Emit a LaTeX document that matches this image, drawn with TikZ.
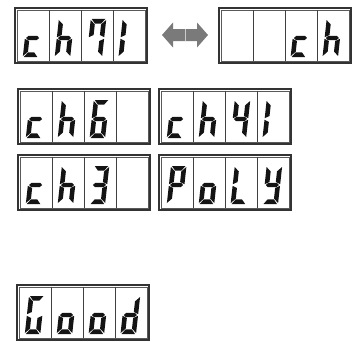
\documentclass[tikz,border=0pt]{standalone}
\begin{document}
\begin{tikzpicture}[x=1pt,y=1pt]
\useasboundingbox (0,0) rectangle (361,341);
\tikzset{
  outerframe/.style={draw=black!80,line width=1.1pt},
  innerframe/.style={draw=black!65,line width=0.6pt},
  divider/.style={draw=black!75,line width=0.6pt},
  segfill/.style={fill=black!92},
  arrowfill/.style={fill=black!52}
}
\def\spa{(1,38) -- (14.5,38) -- (10.9,33.4) -- (4.6,33.4) -- cycle}
\def\spd{(1,0) -- (14.5,0) -- (10.9,4.6) -- (4.6,4.6) -- cycle}
\def\spg{(1.2,19) -- (3.5,21.2) -- (12,21.2) -- (14.3,19) -- (12,16.8) -- (3.5,16.8) -- cycle}
\def\spf{(0,37) -- (4.6,32.6) -- (4.6,22) -- (0,19.8) -- cycle}
\def\spe{(0,1) -- (4.6,5.4) -- (4.6,16) -- (0,18.2) -- cycle}
\def\spb{(15.5,37) -- (10.9,32.6) -- (10.9,22) -- (15.5,19.8) -- cycle}
\def\spc{(15.5,1) -- (10.9,5.4) -- (10.9,16) -- (15.5,18.2) -- cycle}
\def\spnone{(0,0)}
\newcommand\mydigit[3]{%
  \begin{scope}[shift={(#1,#2)},xslant=0.11]
    \foreach \s in {#3}{\fill[segfill] \csname sp\s\endcsname;}
  \end{scope}}
% #1 x left, #2 y top (pixel), #3..#6 segment lists
\newcommand\mydisplay[6]{%
  \pgfmathsetmacro\yb{341-#2-55}
  \pgfmathsetmacro\ydig{\yb+6}
  \draw[outerframe] (#1,\yb) rectangle ++(132,55);
  \draw[innerframe] (#1+2.2,\yb+2.2) rectangle ++(127.6,50.6);
  \foreach \k in {1,2,3}{\draw[divider] (#1+2.2+31.9*\k,\yb+2.2) -- ++(0,50.6);}
  \mydigit{#1+7.8}{\ydig}{#3}
  \mydigit{#1+39.7}{\ydig}{#4}
  \mydigit{#1+71.6}{\ydig}{#5}
  \mydigit{#1+103.5}{\ydig}{#6}
}
% row 1
\mydisplay{15}{8}{g,e,d}{f,e,g,c}{a,b,c,f}{e,f}
\mydisplay{219}{8}{none}{none}{g,e,d}{f,e,g,c}
% arrow
\fill[arrowfill] (162,306) -- (173,318.5) -- (173,312) -- (197,312) -- (197,318.5) -- (208,306)
  -- (197,293.5) -- (197,300) -- (173,300) -- (173,293.5) -- cycle;
\draw[white!80!black,line width=0.3pt] (185,300) -- (185,312);
% row 2
\mydisplay{18}{89}{g,e,d}{f,e,g,c}{a,f,g,e,d,c}{none}
\mydisplay{159}{89}{g,e,d}{f,e,g,c}{f,g,b,c}{e,f}
% row 3
\mydisplay{18}{155}{g,e,d}{f,e,g,c}{a,b,g,c,d}{none}
\mydisplay{159}{155}{a,b,f,g,e}{g,e,c,d}{f,e,d}{f,b,g,c,d}
% row 4
\mydisplay{17}{285}{a,f,e,d,c}{g,e,c,d}{g,e,c,d}{b,g,e,c,d}
\end{tikzpicture}
\end{document}
